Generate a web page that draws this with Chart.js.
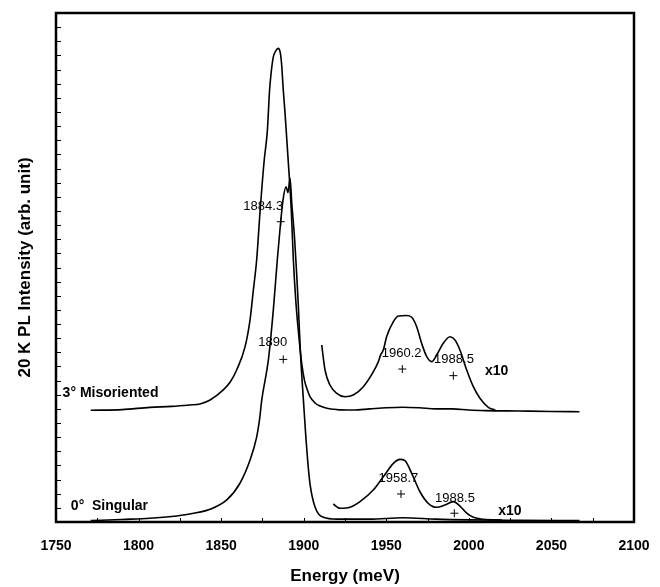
<!DOCTYPE html>
<html>
<head>
<meta charset="utf-8">
<script src="https://cdn.jsdelivr.net/npm/chart.js@4.4.1/dist/chart.umd.min.js"></script>
<style>
  body { margin: 0; background: #fff; }
  #wrap { width: 660px; height: 587px; }
</style>
</head>
<body>
<div id="wrap"><canvas id="plChart" width="660" height="587"></canvas></div>
<script>
// 3 deg misoriented sample
const mis3E = [1771, 1790, 1806.9, 1820, 1831, 1837.2, 1843.3, 1851.3, 1855.5, 1859.4, 1864.5, 1867.5, 1869.5, 1871.5, 1873.5, 1876, 1878, 1879.3, 1880.3, 1881.6, 1883, 1884.6, 1885.8, 1886.6, 1887.6, 1888.7, 1890.7, 1892.5, 1893.7, 1895.3, 1897, 1898.8, 1900.5, 1902, 1903.8, 1907, 1910, 1914, 1920, 1930, 1940, 1950, 1960, 1970, 1980, 1990, 2000, 2010, 2030, 2050, 2067];
const mis3I = [7.9, 7.95, 8.11, 8.18, 8.28, 8.35, 8.63, 9.34, 9.9, 10.75, 12.4, 14.3, 16.4, 18.53, 21.85, 25.5, 27.7, 30.5, 31.8, 32.9, 33.3, 33.5, 33.2, 32.4, 30.6, 28.9, 25.4, 22, 18.6, 15.5, 13.2, 11.2, 10.0, 9.4, 8.86, 8.4, 8.2, 8.04, 7.95, 7.92, 8.0, 8.08, 8.12, 8.08, 8.0, 8.0, 7.92, 7.88, 7.85, 7.82, 7.8];

// 3 deg, x10 part
const mis3x10E = [1910.9, 1912.9, 1915.9, 1920, 1925, 1930, 1936.1, 1942.2, 1945.2, 1946.5, 1948.2, 1950.2, 1954.3, 1957.3, 1962, 1965.4, 1968.4, 1971.4, 1974.5, 1977.5, 1980.5, 1984.5, 1988.6, 1991.6, 1994.6, 1998.7, 2002.7, 2006.7, 2011.8, 2016];
const mis3x10I = [12.52, 10.75, 9.69, 9.1, 8.86, 8.98, 9.57, 10.63, 11.34, 11.8, 12.16, 13.1, 14.17, 14.57, 14.6, 14.48, 13.81, 12.64, 11.69, 11.34, 11.81, 12.64, 13.1, 12.87, 12.16, 10.75, 9.57, 8.75, 8.11, 7.92];

// 0 deg singular sample
const sing0E = [1771, 1790, 1806.9, 1827.1, 1843.3, 1853.4, 1861.4, 1867.5, 1871.5, 1873.2, 1874.6, 1878.6, 1881.6, 1884, 1885.6, 1887.5, 1889.3, 1890.5, 1891.7, 1892.8, 1894.5, 1895.7, 1896.7, 1898, 1900, 1901.3, 1902.5, 1903.8, 1906.8, 1911.9, 1920, 1940, 1960, 1980, 2000, 2030, 2067];
const sing0I = [0.1, 0.18, 0.26, 0.5, 0.9, 1.56, 2.74, 4.38, 6.0, 7.2, 8.63, 11.46, 15.0, 18.53, 20.65, 22.8, 23.7, 23.3, 24.33, 22.5, 20.0, 17.6, 15.4, 12.0, 8.3, 6.0, 4.2, 2.7, 1.08, 0.33, 0.2, 0.2, 0.3, 0.2, 0.15, 0.12, 0.1];

// 0 deg, x10 part
const sing0x10E = [1917.9, 1922, 1928, 1934.1, 1942.1, 1948.2, 1954.3, 1958.3, 1961.3, 1965.4, 1970.4, 1975.4, 1980.5, 1985.5, 1990.6, 1994.6, 1998.7, 2002.7, 2008.8, 2020];
const sing0x10I = [1.27, 0.97, 1.04, 1.44, 2.26, 3.2, 4.15, 4.43, 4.34, 3.44, 2.14, 1.32, 1.04, 1.2, 1.44, 1.13, 0.62, 0.33, 0.19, 0.14];

// peak markers (+)
const crossE = [1886.1, 1887.6, 1959.7, 1990.6, 1958.9, 1991.2];
const crossI = [21.24, 11.5, 10.82, 10.35, 1.98, 0.62];

// text labels
const labelText = ['1884.3', '1890', '1960.2', '1988.5', 'x10', '1958.7', '1988.5', 'x10', '3\u00b0 Misoriented', '0\u00b0  Singular'];
const labelE = [1875.5, 1881.3, 1959.3, 1991, 2016.8, 1957.3, 1991.6, 2024.9, 1754, 1759];
const labelI = [22.34, 12.67, 11.93, 11.5, 10.7, 3.09, 1.68, 0.78, 9.1, 1.15];

const xTickLabels = [1750, 1800, 1850, 1900, 1950, 2000, 2050, 2100];

function pts(xs, ys) {
    return xs.map((x, i) => ({ x: x, y: ys[i] }));
}

function lineSet(xs, ys) {
    return {
        data: pts(xs, ys),
        showLine: true,
        borderColor: '#000',
        borderWidth: 1.6,
        pointRadius: 0,
        cubicInterpolationMode: 'monotone',
        fill: false
    };
}

// frame, inside tick marks and the text labels
const decorPlugin = {
    id: 'decor',
    afterDatasetsDraw(chart) {
        const ctx = chart.ctx;
        const a = chart.chartArea;
        const xs = chart.scales.x, ys = chart.scales.y;
        ctx.save();
        ctx.strokeStyle = '#000';
        ctx.lineWidth = 1;
        ctx.beginPath();
        xs.ticks.forEach(t => {
            const px = Math.round(xs.getPixelForValue(t.value)) + 0.5;
            ctx.moveTo(px, a.bottom);
            ctx.lineTo(px, a.bottom - 4);
        });
        ys.ticks.forEach(t => {
            const py = Math.round(ys.getPixelForValue(t.value)) + 0.5;
            ctx.moveTo(a.left, py);
            ctx.lineTo(a.left + 5, py);
        });
        ctx.stroke();

        ctx.lineWidth = 2.5;
        ctx.strokeRect(a.left, a.top, a.right - a.left, a.bottom - a.top);

        ctx.fillStyle = '#000';
        ctx.textBaseline = 'middle';
        labelText.forEach((txt, i) => {
            const px = xs.getPixelForValue(labelE[i]);
            const py = ys.getPixelForValue(labelI[i]);
            const bold = txt.startsWith('x10') || i >= 8;
            ctx.font = (bold ? 'bold 14px' : '13px') + ' "Liberation Sans", Arial, sans-serif';
            ctx.textAlign = i >= 8 ? 'left' : 'center';
            ctx.fillText(txt, px, py);
        });
        ctx.restore();
    }
};

const ctx = document.getElementById('plChart').getContext('2d');
const chart = new Chart(ctx, {
    type: 'scatter',
    data: {
        datasets: [
            lineSet(mis3E, mis3I),
            lineSet(mis3x10E, mis3x10I),
            lineSet(sing0E, sing0I),
            lineSet(sing0x10E, sing0x10I),
            {
                data: pts(crossE, crossI),
                pointStyle: 'cross',
                pointRadius: 4,
                borderColor: '#000',
                borderWidth: 1,
                showLine: false
            }
        ]
    },
    options: {
        responsive: false,
        animation: false,
        layout: { padding: { top: 13, right: 26, left: 0, bottom: 0 } },
        plugins: {
            legend: { display: false },
            tooltip: { enabled: false }
        },
        scales: {
            x: {
                type: 'linear',
                min: 1750,
                max: 2100,
                grid: { display: false, drawTicks: false },
                border: { display: false },
                ticks: {
                    stepSize: 25,
                    autoSkip: false,
                    maxRotation: 0,
                    padding: 16,
                    color: '#000',
                    font: { family: '"Liberation Sans", Arial, sans-serif', size: 14, weight: 'bold' },
                    callback: v => xTickLabels.includes(v) ? String(v) : ''
                },
                title: {
                    display: true,
                    text: 'Energy (meV)',
                    color: '#000',
                    padding: { top: 0, bottom: 0 },
                    font: { family: '"Liberation Sans", Arial, sans-serif', size: 17, weight: 'bold' }
                },
                afterFit: s => { s.height = 65; s.paddingLeft = 0; s.paddingRight = 0; }
            },
            y: {
                min: 0,
                max: 36,
                grid: { display: false, drawTicks: false },
                border: { display: false },
                ticks: { display: false, stepSize: 1 },
                title: {
                    display: true,
                    text: '20 K PL Intensity (arb. unit)',
                    color: '#000',
                    padding: { top: 15, bottom: 0 },
                    font: { family: '"Liberation Sans", Arial, sans-serif', size: 17, weight: 'bold' }
                },
                afterFit: s => { s.width = 56; }
            }
        }
    },
    plugins: [decorPlugin]
});
</script>
</body>
</html>
